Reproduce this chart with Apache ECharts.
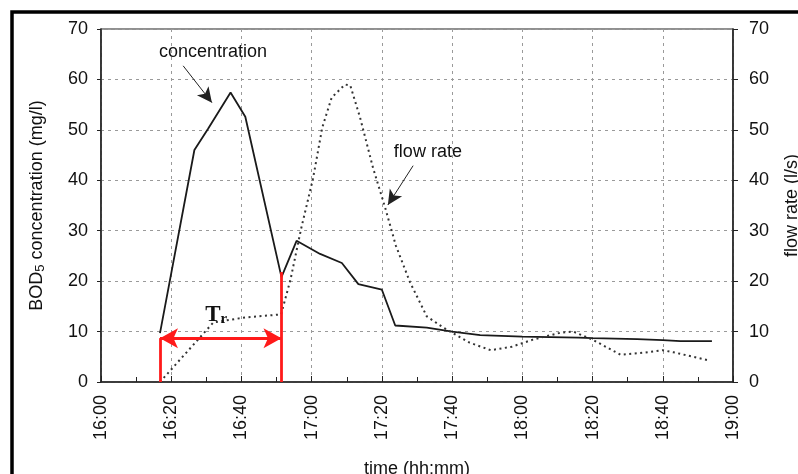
<!DOCTYPE html>
<html>
<head>
<meta charset="utf-8">
<script src="https://cdn.jsdelivr.net/npm/echarts@6/dist/echarts.min.js"></script>
<style>
  html, body { margin: 0; padding: 0; background: #fff; }
  #chart { width: 798px; height: 474px; }
</style>
</head>
<body>
<div id="chart"></div>
<script>
// minutes after 16:00
var concTime = [16.8, 26.6, 30.5, 36.9, 41.1, 51.4, 55.7, 62.4, 68.6, 73.3, 80, 83.8, 92.8, 100, 108, 120, 136, 140, 152.7, 160, 165, 174];
var concValue = [9.7, 46, 50.2, 57.4, 52.6, 20.8, 28, 25.4, 23.6, 19.4, 18.3, 11.2, 10.8, 10, 9.3, 9, 8.8, 8.7, 8.5, 8.3, 8.1, 8.1];

var flowTime = [16.8, 32, 41, 51.3, 54, 57, 60.4, 63, 65.7, 69.5, 71, 73.8, 77.5, 81, 84, 88, 92.8, 97.5, 100, 105, 111, 117, 123, 131, 134.5, 140, 148, 154.5, 160, 163, 173];
var flowValue = [0, 11.8, 12.8, 13.4, 20.4, 30.4, 40.4, 50.4, 56.4, 59, 58.8, 52.4, 42.4, 34.4, 27, 19.8, 13, 10.8, 9.8, 7.8, 6.3, 7, 8.4, 9.8, 10, 8.4, 5.4, 5.8, 6.3, 5.9, 4.3];

// retention time Tr markers
var trStart = 16.8;
var trEnd = 51.4;
var trLevel = 8.7;
var trEndTop = 21.8;

var yTicks = [0, 70, 10];   // min, max, interval
var xTicks = [0, 180, 20];

function pair(t, v) {
    var out = [];
    for (var i = 0; i < t.length; i++) out.push([t[i], v[i]]);
    return out;
}
function hhmm(v) {
    var h = 16 + Math.floor(v / 60);
    var m = v % 60;
    return h + ':' + (m < 10 ? '0' + m : m);
}

var font = '"Liberation Sans", Arial, sans-serif';
var gridLine = { show: true, lineStyle: { color: '#9a9a9a', type: [3, 4], width: 1 } };

var chart = echarts.init(document.getElementById('chart'));
chart.setOption({
    animation: false,
    textStyle: { fontFamily: font },
    grid: { left: 101, right: 65, top: 29, bottom: 92, outerBoundsMode: 'none', containLabel: false,
        show: true, borderColor: '#222', borderWidth: 1.2 },
    graphic: [
        { type: 'rect', shape: { x: 12, y: 12, width: 900, height: 600 }, style: { fill: 'none', stroke: '#000', lineWidth: 3.5 } }
    ],
    xAxis: {
        type: 'value', min: xTicks[0], max: xTicks[1], interval: xTicks[2],
        name: 'time (hh:mm)', nameLocation: 'middle', nameGap: 78,
        nameTextStyle: { fontSize: 18, color: '#111' },
        axisLine: { lineStyle: { color: '#222', width: 1.5 } },
        axisTick: { inside: true, length: 6, lineStyle: { color: '#222' } },
        minorTick: { show: true, splitNumber: 2, length: 5, lineStyle: { color: '#222' } },
        axisLabel: { rotate: 90, fontSize: 18, color: '#111', margin: 13, formatter: hhmm },
        splitLine: gridLine
    },
    yAxis: [
        {
            type: 'value', min: yTicks[0], max: yTicks[1], interval: yTicks[2],
            name: 'BOD{s|5} concentration (mg/l)', nameLocation: 'middle', nameGap: 54,
            nameTextStyle: { fontSize: 18, color: '#111', rich: { s: { fontSize: 13, verticalAlign: 'bottom', padding: [6, 0, 0, 0] } } },
            axisLine: { show: true, lineStyle: { color: '#222', width: 1.5 } },
            axisTick: { show: true, length: 4, lineStyle: { color: '#222' } },
            axisLabel: { fontSize: 18, color: '#111', margin: 13 },
            splitLine: gridLine
        },
        {
            type: 'value', min: yTicks[0], max: yTicks[1], interval: yTicks[2],
            name: 'flow rate (l/s)', nameLocation: 'middle', nameGap: 50,
            nameTextStyle: { fontSize: 18, color: '#111' },
            axisLine: { show: true, lineStyle: { color: '#222', width: 1.5 } },
            axisTick: { show: true, length: 5, lineStyle: { color: '#222' } },
            axisLabel: { fontSize: 18, color: '#111', margin: 16 },
            splitLine: { show: false }
        }
    ],
    series: [
        {
            name: 'concentration', type: 'line', yAxisIndex: 0,
            data: pair(concTime, concValue),
            symbol: 'none',
            lineStyle: { color: '#1a1a1a', width: 1.8 },
            markLine: {
                silent: true, animation: false,
                label: { show: false },
                data: [
                    [{ coord: [trStart, 0], symbol: 'none' }, { coord: [trStart, trLevel], symbol: 'none' }],
                    [{ coord: [trEnd, 0], symbol: 'none' }, { coord: [trEnd, trEndTop], symbol: 'none' }],
                    [{ coord: [trStart, trLevel], symbol: 'arrow', symbolSize: [15, 18] }, { coord: [trEnd, trLevel], symbol: 'arrow', symbolSize: [15, 18] }],
                    [{ coord: [23.4, 62.7], symbol: 'none', lineStyle: { color: '#222', width: 1 } }, { coord: [31.6, 55.4], symbol: 'arrow', symbolSize: [11, 15], lineStyle: { color: '#222', width: 1 } }],
                    [{ coord: [88.9, 42.9], symbol: 'none', lineStyle: { color: '#222', width: 1 } }, { coord: [81.7, 35.1], symbol: 'arrow', symbolSize: [11, 15], lineStyle: { color: '#222', width: 1 } }]
                ],
                lineStyle: { color: '#ff1a1a', width: 2.8, type: 'solid' }
            },
            markPoint: {
                silent: true, animation: false,
                symbol: 'circle', symbolSize: 0,
                data: [
                    { coord: [31.9, 65.5], label: { show: true, formatter: 'concentration', fontSize: 18, color: '#111' } },
                    { coord: [93.1, 45.6], label: { show: true, formatter: 'flow rate', fontSize: 18, color: '#111' } },
                    { coord: [32.8, 13.2], label: { show: true, formatter: '{t|T}{r|r}', rich: {
                        t: { fontFamily: '"Liberation Serif", serif', fontWeight: 'bold', fontSize: 23, color: '#111' },
                        r: { fontFamily: '"Liberation Serif", serif', fontWeight: 'bold', fontSize: 15, color: '#111', verticalAlign: 'bottom', padding: [8, 0, 0, 0] }
                    } } }
                ]
            }
        },
        {
            name: 'flow rate', type: 'line', yAxisIndex: 1,
            data: pair(flowTime, flowValue),
            symbol: 'none',
            lineStyle: { color: '#333', width: 2, type: [2, 3.5] }
        }
    ]
});
</script>
</body>
</html>
